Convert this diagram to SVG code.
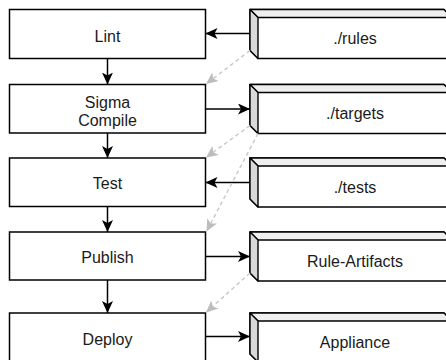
<svg xmlns="http://www.w3.org/2000/svg" width="446" height="360" viewBox="0 0 446 360">
<style>
.box{fill:#fff;stroke:#000;stroke-width:1.5}
.face{stroke:#000;stroke-width:1.4;stroke-linejoin:round}
.top{fill:#efefef}
.side{fill:#d9d9d9}
.front{fill:#fff}
.lbl{font-family:"Liberation Sans",Arial,sans-serif;font-size:16px;fill:#1a1a1a;text-anchor:middle}
.edge{fill:none;stroke:#000;stroke-width:1.5}
.dash{fill:none;stroke:#c8c8c8;stroke-width:1.4;stroke-dasharray:4 3}
</style>
<defs>
<marker id="ah" viewBox="0 0 12 11" refX="12" refY="5.5" markerWidth="12" markerHeight="11" markerUnits="userSpaceOnUse" orient="auto">
<path d="M12,5.5 L0,0 L3,5.5 L0,11 Z" fill="#000"/>
</marker>
<marker id="ahg" viewBox="0 0 12 11" refX="12" refY="5.5" markerWidth="12" markerHeight="11" markerUnits="userSpaceOnUse" orient="auto">
<path d="M12,5.5 L0,0 L3,5.5 L0,11 Z" fill="#bdbdbd"/>
</marker>
<g id="cube">
<path class="face front" d="M0,0 L194,0 L202,8 L202,49 L8,49 L0,41 Z"/>
<path class="face top" d="M0,0 L194,0 L202,8 L8,8 Z"/>
<path class="face side" d="M0,0 L8,8 L8,49 L0,41 Z"/>
</g>
</defs>

<g id="lint"><rect class="box" x="9.5" y="9.5" width="196" height="49"/><text class="lbl" x="107.5" y="41.5">Lint</text></g>
<g id="sigma"><rect class="box" x="9.5" y="84.5" width="196" height="48.5"/><text class="lbl" x="107.5" y="108">Sigma</text><text class="lbl" x="107.5" y="126">Compile</text></g>
<g id="test"><rect class="box" x="9.5" y="158" width="196" height="48.5"/><text class="lbl" x="107.5" y="189">Test</text></g>
<g id="publish"><rect class="box" x="9.5" y="232" width="196" height="48"/><text class="lbl" x="107.5" y="263">Publish</text></g>
<g id="deploy"><rect class="box" x="9.5" y="313" width="196" height="49"/><text class="lbl" x="107.5" y="345">Deploy</text></g>

<g id="rules"><use href="#cube" x="250" y="9.5"/><text class="lbl" x="355" y="44">./rules</text></g>
<g id="targets"><use href="#cube" x="250" y="84.5"/><text class="lbl" x="355" y="119">./targets</text></g>
<g id="tests"><use href="#cube" x="250" y="158"/><text class="lbl" x="355" y="192.5">./tests</text></g>
<g id="artifacts"><use href="#cube" x="250" y="232"/><text class="lbl" x="355" y="266.5">Rule-Artifacts</text></g>
<g id="appliance"><use href="#cube" x="250" y="313"/><text class="lbl" x="355" y="348">Appliance</text></g>

<g id="connectors">
<line class="edge" x1="107.5" y1="58.5" x2="107.5" y2="84.5" marker-end="url(#ah)"/>
<line class="edge" x1="107.5" y1="133" x2="107.5" y2="158" marker-end="url(#ah)"/>
<line class="edge" x1="107.5" y1="206.5" x2="107.5" y2="232" marker-end="url(#ah)"/>
<line class="edge" x1="107.5" y1="280" x2="107.5" y2="313" marker-end="url(#ah)"/>
<line class="edge" x1="250" y1="33.5" x2="205.5" y2="33.5" marker-end="url(#ah)"/>
<line class="edge" x1="205.5" y1="109" x2="250" y2="109" marker-end="url(#ah)"/>
<line class="edge" x1="250" y1="182.5" x2="205.5" y2="182.5" marker-end="url(#ah)"/>
<line class="edge" x1="205.5" y1="256.5" x2="250" y2="256.5" marker-end="url(#ah)"/>
<line class="edge" x1="205.5" y1="336.5" x2="250" y2="336.5" marker-end="url(#ah)"/>
<line class="dash" x1="250" y1="50.5" x2="206" y2="84" marker-end="url(#ahg)"/>
<line class="dash" x1="250" y1="125.5" x2="206" y2="157.5" marker-end="url(#ahg)"/>
<line class="dash" x1="258" y1="133.5" x2="206.5" y2="231.5" marker-end="url(#ahg)"/>
<line class="dash" x1="250" y1="273" x2="206" y2="312.5" marker-end="url(#ahg)"/>
</g>
</svg>
